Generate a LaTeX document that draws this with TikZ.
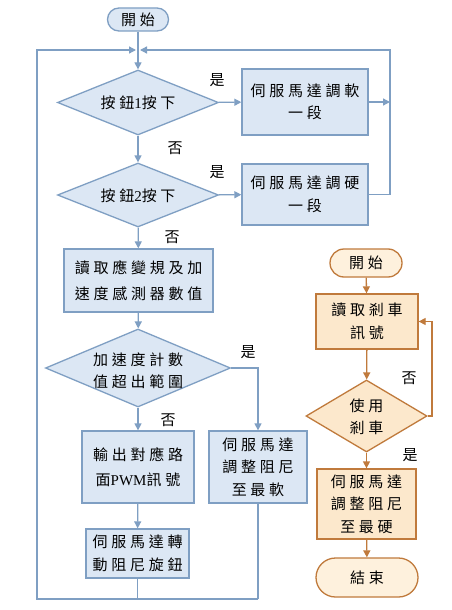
\documentclass[tikz,border=0pt]{standalone}
\usepackage{fontspec}
\newfontfamily\cjk[LetterSpace=25]{Noto Sans CJK TC}
\newfontfamily\lat{Liberation Serif}
\usetikzlibrary{arrows.meta,shapes.geometric}
\definecolor{bfill}{HTML}{DCE7F4}
\definecolor{bline}{HTML}{7F9FC3}
\definecolor{ofill}{HTML}{FCE8CC}
\definecolor{ofilll}{HTML}{FEF1DD}
\definecolor{oline}{HTML}{C07A3C}
\begin{document}
\begin{tikzpicture}[x=1pt,y=-1pt,
  txt/.style={font=\fontsize{15}{22.5}\selectfont\cjk, align=center, inner sep=0pt, text=black},
  bbox/.style={draw=bline, fill=bfill, line width=1.3pt, inner sep=0pt, rectangle},
  bdia/.style={draw=bline, fill=bfill, line width=1.3pt, inner sep=0pt, diamond},
  obox/.style={draw=oline, fill=ofill, line width=1.3pt, inner sep=0pt, rectangle},
  odia/.style={draw=oline, fill=ofill, line width=1.3pt, inner sep=0pt, diamond},
  conn/.style={draw=bline, line width=1.3pt},
  arr/.style={conn, -{Triangle[length=7pt,width=7pt]}},
  oconn/.style={draw=oline, line width=1.3pt},
  oarr/.style={oconn, -{Triangle[length=7pt,width=7pt]}}]
\useasboundingbox (0,0) rectangle (451,610);
\fill[white] (0,0) rectangle (451,610);

% coordinates for the loop
\coordinate (lt) at (37,50);
\coordinate (lb) at (37,599);
\coordinate (rtop) at (390,50);
\coordinate (r1) at (390,102);
\coordinate (mL) at (136,50);
\coordinate (mR) at (140,50);

% blue nodes
\node[bbox, rounded corners=11.5pt, minimum width=61pt, minimum height=23pt] (s1) at (138,19.5) {};
\node[txt] (s1t) at (s1) {開始};
\node[bdia, minimum width=161pt, minimum height=65pt] (d1) at (138,102.5) {};
\node[txt] (d1t) at (138,103) {按鈕{\lat 1}按下};
\node[bbox, minimum width=126pt, minimum height=66pt] (b1) at (305,102) {};
\node[txt] (b1t) at (b1) {伺服馬達調軟\\一段};
\node[bdia, minimum width=161pt, minimum height=64pt] (d2) at (138,195) {};
\node[txt] (d2t) at (138,196) {按鈕{\lat 2}按下};
\node[bbox, minimum width=126pt, minimum height=61pt] (b2) at (305,194.5) {};
\node[txt] (b2t) at (b2) {伺服馬達調硬\\一段};
\node[bbox, minimum width=149pt, minimum height=63pt] (b3) at (138.5,280.5) {};
\node[txt] (b3t) at (b3) {讀取應變規及加\\[4pt]速度感測器數值};
\node[bdia, minimum width=185pt, minimum height=78pt] (d3) at (138,368) {};
\node[txt] (d3t) at (138,371) {加速度計數\\值超出範圍};
\node[bbox, minimum width=112pt, minimum height=72pt] (b4) at (138,467) {};
\node[txt] (b4t) at (b4) {輸出對應路\\[2pt]面{\lat PWM}訊號};
\node[bbox, minimum width=98pt, minimum height=72pt] (rb) at (258,467) {};
\node[txt] (rbt) at (rb) {伺服馬達\\調整阻尼\\至最軟};
\node[bbox, minimum width=103pt, minimum height=49pt] (b5) at (137.5,553.5) {};
\node[txt] (b5t) at (b5) {伺服馬達轉\\動阻尼旋鈕};

% blue labels
\node[txt] (y1) at (217,80) {是};
\node[txt] (n1) at (175,148) {否};
\node[txt] (y2) at (217,172) {是};
\node[txt] (n2) at (172,237) {否};
\node[txt] (y3) at (248,352) {是};
\node[txt] (n3) at (168,420) {否};

% blue connectors
\draw[arr] (s1) -- (d1);
\draw[arr] (d1) -- (b1);
\draw[arr] (d1) -- (d2);
\draw[arr] (d2) -- (b2);
\draw[arr] (d2) -- (b3);
\draw[arr] (b3) -- (d3);
\draw[arr] (d3) -- (b4);
\draw[arr] (b4) -- (b5);
\draw[arr] (b1.east) -- (r1);
\draw[arr] (b2.east) -| (rtop) -- (mR);
\draw[arr] (d3.east) -| (rb.north);
\draw[conn] (b5.south) -- (b5.south |- lb);
\draw[conn] (rb.south) -- (rb.south |- lb);
\draw[arr] (rb.south |- lb) -- (lb) -- (lt) -- (mL);

% orange nodes
\node[obox, fill=ofilll, rounded corners=14pt, minimum width=72pt, minimum height=28pt] (s2) at (366,263) {};
\node[txt] (s2t) at (s2) {開始};
\node[obox, minimum width=102pt, minimum height=55pt] (o1) at (367,321.5) {};
\node[txt] (o1t) at (o1) {讀取剎車\\訊號};
\node[odia, minimum width=121pt, minimum height=72pt] (od) at (366.5,416) {};
\node[txt] (odt) at (366.5,417) {使用\\剎車};
\node[obox, minimum width=99pt, minimum height=70pt] (o2) at (366.5,504) {};
\node[txt] (o2t) at (o2) {伺服馬達\\調整阻尼\\至最硬};
\node[obox, fill=ofilll, rounded corners=19.5pt, minimum width=102pt, minimum height=39pt] (oe) at (367,577.5) {};
\node[txt] (oet) at (oe) {結束};
\coordinate (oR) at (432,416);

% orange labels
\node[txt] (n4) at (409,378) {否};
\node[txt] (y4) at (410,455) {是};

% orange connectors
\draw[oarr] (s2) -- (o1);
\draw[oarr] (o1) -- (od);
\draw[oarr] (od) -- (o2);
\draw[oarr] (o2) -- (oe);
\draw[oarr] (od.east) -- (oR) |- (o1.east);
\end{tikzpicture}
\end{document}
